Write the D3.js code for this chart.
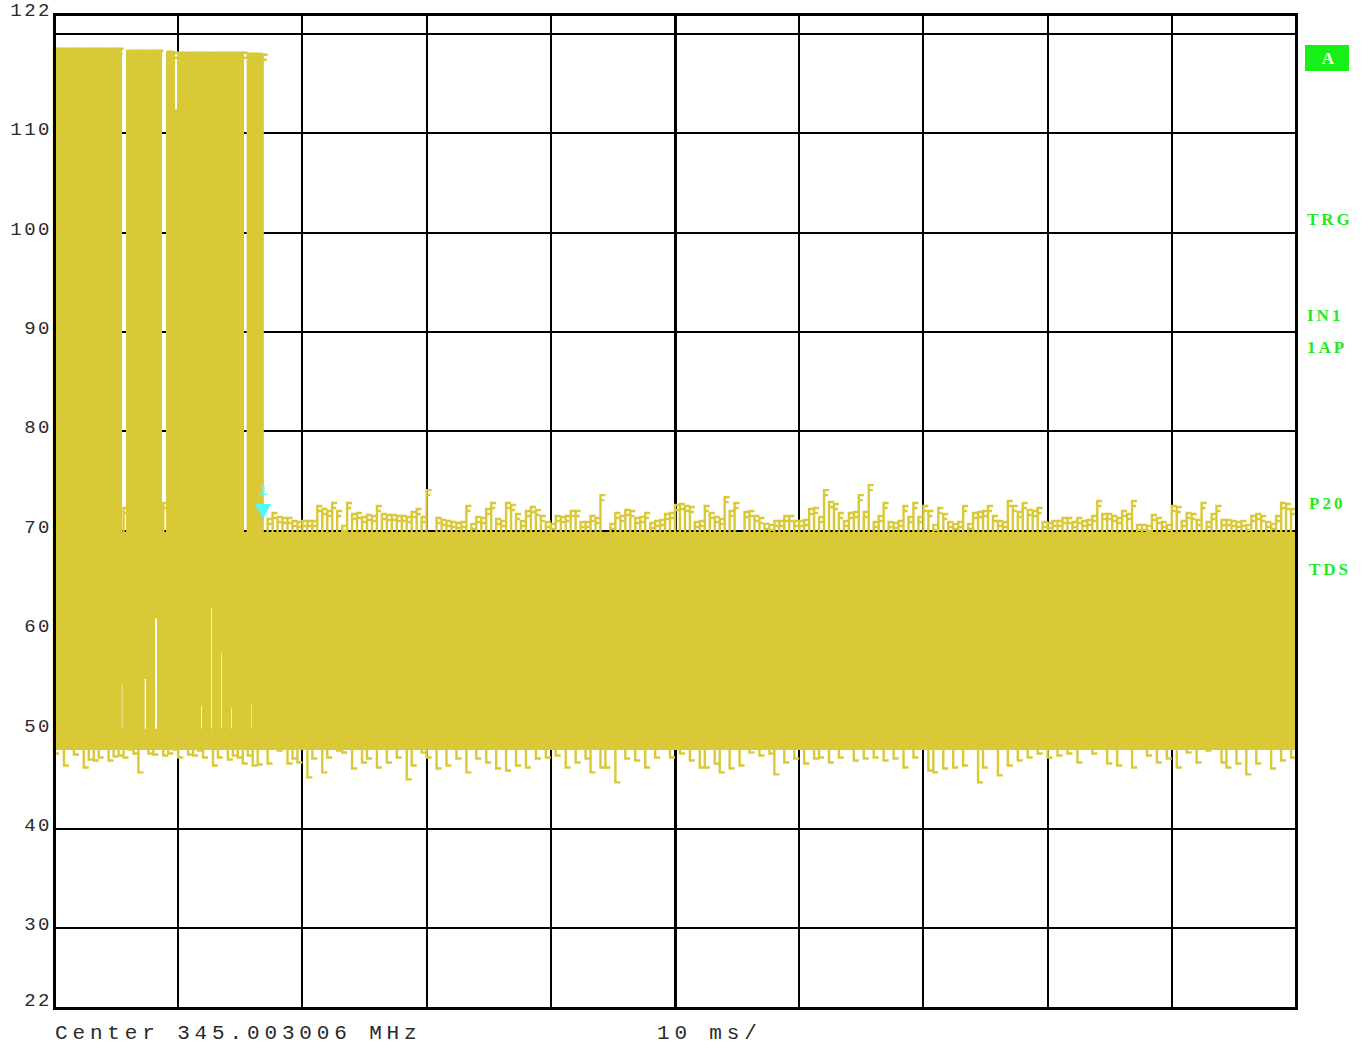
<!DOCTYPE html>
<html>
<head>
<meta charset="utf-8">
<script src="https://cdn.jsdelivr.net/npm/d3@7"></script>
<style>
  body { margin: 0; background: #fff; }
  text { font-family: "Liberation Mono", "DejaVu Sans Mono", monospace; }
  text.side { font-family: "Liberation Serif", serif; }
</style>
</head>
<body>
<svg id="chart"></svg>
<script>
// ---- data (zero span, 10 ms/div, dBuV) ----
const yTicks = [122, 110, 100, 90, 80, 70, 60, 50, 40, 30, 22];
const yGrid = [120, 110, 100, 90, 80, 70, 60, 50, 40, 30];
const xDivs = [0, 10, 20, 30, 40, 50, 60, 70, 80, 90, 100];   // ms

// solid filled parts of the trace (ms, dB)
const blockStart  = [0,     5.82,  9.02,  9.74,  9.94,  15.55, 0];
const blockEnd    = [5.48,  8.70,  9.74,  9.94,  15.30, 16.71, 100];
const blockTop    = [118.6, 118.4, 118.3, 112.4, 118.2, 118.1, 69.9];
const blockBottom = [48.0,  48.0,  48.0,  48.0,  48.0,  48.0,  48.0];

// short stretches inside the burst where the trace leaves a white gap (ms, dB)
const gapMs     = [5.54, 7.33, 8.21, 11.92, 12.72, 13.53, 14.33, 15.94];
const gapTop    = [54.6, 55.1, 61.2, 52.4,  62.2,  57.7,  52.2,  52.6];
const gapBottom = [50.1, 50.1, 50.1, 50.1,  50.1,  50.1,  50.1,  50.1];

// one pulse every 0.4 ms: peak and trough of each (dB)
const slotMs = 0.4;
const peaks = [
  118.5, 118.5, 118.5, 118.5, 118.5, 118.5, 118.5, 118.5, 118.5, 118.5,
  118.5, 118.5, 118.5, 118.5, 72.3, 118.3, 118.3, 118.3, 118.3, 118.3,
  118.3, 118.3, 72.8, 118.2, 118.1, 118.1, 118.1, 118.1, 118.1, 118.1,
  118.1, 118.1, 118.1, 118.1, 118.1, 118.1, 118.1, 118.1, 118.1, 118.0,
  118.0, 118.0, 117.9, 71.2,
  71.8, 71.4, 71.3, 71.3, 71.0, 70.9, 71.0, 71.0, 71.0, 72.5,
  72.2, 72.0, 72.8, 72.0, 70.5, 72.8, 71.7, 71.8, 71.4, 71.6,
  71.5, 72.5, 71.7, 71.6, 71.6, 71.5, 71.5, 71.4, 71.9, 72.2,
  71.4, 74.1, 69.6, 71.3, 71.1, 71.0, 70.9, 70.8, 70.9, 72.5,
  70.7, 71.4, 71.3, 72.2, 72.8, 71.2, 71.0, 72.8, 72.6, 71.7,
  71.0, 72.0, 72.4, 72.1, 71.5, 70.9, 70.7, 71.5, 71.4, 71.5,
  72.0, 72.0, 70.9, 70.9, 71.5, 71.3, 73.6, 69.7, 70.7, 71.8,
  71.5, 72.1, 72.0, 71.3, 71.4, 71.8, 70.8, 71.0, 71.1, 71.7,
  71.8, 72.6, 72.7, 72.5, 72.4, 70.9, 71.0, 72.5, 71.8, 71.4,
  71.2, 73.4, 72.0, 72.8, 69.5, 71.9, 72.0, 71.5, 71.3, 70.7,
  70.6, 71.0,
  71.0, 71.5, 71.5, 71.0, 71.0, 71.1, 72.2, 72.3, 71.4, 74.1,
  72.9, 72.7, 71.8, 71.0, 71.8, 71.9, 73.6, 71.9, 74.6, 70.9,
  71.5, 72.8, 70.9, 70.8, 71.0, 72.5, 71.4, 72.8, 71.4, 72.5,
  72.0, 70.6, 72.3, 71.7, 70.9, 70.7, 70.9, 72.5, 70.7, 71.8,
  71.9, 72.0, 72.5, 71.5, 71.0, 70.9, 73.0, 72.5, 71.9, 72.8,
  72.1, 72.0, 72.3, 70.9, 70.8, 71.0, 71.0, 71.3, 71.3, 70.9,
  71.3, 71.0, 71.1, 71.5, 73.0, 71.7, 71.7, 71.5, 71.3, 72.0,
  71.7, 73.0, 70.6, 70.6, 70.5, 71.6, 71.3, 70.9, 70.6, 72.5,
  72.4, 71.0, 71.8, 71.7, 71.1, 72.8, 70.9, 71.7, 72.5, 71.1,
  71.1, 71.0, 70.9, 71.0, 70.6, 71.5, 71.7, 71.5, 70.9, 70.7,
  71.5, 72.8, 72.7, 72.2
];
const troughs = [
  47.6, 48.2, 46.4, 48.2, 47.5, 48.3, 46.2, 47.0, 46.9, 47.2,
  48.1, 46.9, 47.3, 47.4, 47.2, 48.0, 47.6, 45.7, 48.2, 47.6,
  47.5, 48.1, 47.4, 47.6, 48.0, 47.2, 48.1, 47.5, 47.4, 47.9,
  47.2, 48.2, 46.4, 47.2, 48.3, 47.0, 47.4, 47.2, 46.6, 47.4,
  46.4, 46.5,
  48.4, 46.6, 48.5, 47.9, 48.6, 46.6, 47.1, 46.7, 48.5, 45.2,
  47.1, 48.6, 45.7, 47.2, 48.4, 47.9, 47.7, 48.6, 46.1, 48.5,
  46.7, 47.1, 48.6, 46.2, 48.4, 46.7, 48.7, 47.2, 48.5, 45.0,
  46.4, 48.6, 47.7, 47.2, 48.5, 46.1, 48.6, 46.4, 48.4, 47.1,
  48.7, 45.7, 48.5, 47.1, 48.6, 46.7, 48.4, 46.1, 48.6, 45.9,
  48.5, 46.4, 48.7, 46.2, 48.4, 47.1, 48.6, 47.2, 48.5, 47.4,
  48.6, 46.2, 48.4, 46.7, 48.7, 47.1, 45.7, 48.5, 46.2, 46.2,
  48.6, 44.7, 48.4, 47.1, 48.6, 46.9, 48.5, 46.2, 48.7, 47.2,
  48.4, 48.6, 47.2, 48.5, 47.6, 48.4, 46.9, 48.6, 46.2, 46.2,
  48.5, 46.6, 45.7, 48.6, 46.1, 48.4, 46.4, 48.7, 47.7, 48.5,
  47.4, 48.6, 47.6, 45.5, 48.4, 46.7, 48.6, 47.1, 48.5, 46.6,
  48.7, 47.1, 47.2, 48.4, 46.7, 48.6, 47.2, 48.5, 48.6, 46.9,
  48.4, 47.1, 48.7, 47.2, 48.5, 46.9, 48.6, 47.1, 48.4, 46.2,
  48.6, 47.2, 48.5, 48.7, 45.9, 45.7, 48.4, 46.1, 48.6, 46.2,
  48.5, 46.4, 48.7, 48.4, 44.7, 46.2, 48.6, 48.5, 45.4, 48.4,
  46.4, 48.6, 46.9, 48.5, 47.2, 48.7, 47.6, 48.4, 47.2, 48.6,
  47.4, 48.5, 47.6, 48.4, 46.7, 48.6, 48.5, 47.6, 48.7, 48.4,
  46.6, 48.6, 46.4, 48.5, 48.4, 46.2, 48.6, 48.7, 47.4, 48.5,
  46.7, 48.4, 47.1, 48.6, 46.2, 48.5, 47.7, 48.4, 46.7, 48.6,
  47.9, 48.5, 48.4, 46.7, 46.2, 48.6, 46.6, 48.5, 45.5, 48.4,
  46.6, 48.6, 48.5, 46.1, 48.7, 46.9, 48.4, 47.2
];

// marker 1
const markerMs = 16.83, markerDb = 71.2;

// screen texts
const footLeft = "Center 345.003006 MHz";
const footMid = "10 ms/";
const sideLabels = ["TRG", "IN1", "1AP", "P20", "TDS"];

// ---- layout ----
const width = 1367, height = 1046;
const plot = { left: 54, right: 1296, top: 14, bottom: 1008 };
const traceColor = "#d9c937", gridColor = "#000", green = "#22ea22";

const svg = d3.select("#chart").attr("width", width).attr("height", height);

const x = d3.scaleLinear().domain([0, 100]).range([plot.left, plot.right]);
const y = d3.scaleLinear().domain([22, 122]).range([plot.bottom, plot.top]);

// grid
svg.append("g").selectAll("line").data(yGrid).join("line")
   .attr("x1", plot.left).attr("x2", plot.right)
   .attr("y1", d => y(d)).attr("y2", d => y(d))
   .attr("stroke", gridColor).attr("stroke-width", 2)
   .attr("shape-rendering", "crispEdges");

svg.append("g").selectAll("line").data(xDivs.slice(1, -1)).join("line")
   .attr("x1", d => x(d)).attr("x2", d => x(d))
   .attr("y1", plot.top).attr("y2", plot.bottom)
   .attr("stroke", gridColor).attr("stroke-width", d => d === 50 ? 3 : 2)
   .attr("shape-rendering", "crispEdges");

// filled parts of the trace
svg.append("g").selectAll("rect").data(blockStart).join("rect")
   .attr("x", (d, i) => x(d))
   .attr("width", (d, i) => x(blockEnd[i]) - x(d))
   .attr("y", (d, i) => y(blockTop[i]))
   .attr("height", (d, i) => y(blockBottom[i]) - y(blockTop[i]))
   .attr("fill", traceColor)
   .attr("shape-rendering", "crispEdges");

// white gaps inside the burst
svg.append("g").selectAll("line").data(gapMs).join("line")
   .attr("x1", d => x(d)).attr("x2", d => x(d))
   .attr("y1", (d, i) => y(gapTop[i])).attr("y2", (d, i) => y(gapBottom[i]))
   .attr("stroke", "#fff").attr("stroke-width", 2);

// individual pulses with their overshoot flags
const pulses = peaks.map((p, i) => ({ t: i * slotMs, hi: p, lo: troughs[i] }));
svg.append("g").selectAll("path").data(pulses).join("path")
   .attr("d", d => {
       const px = x(d.t), yh = y(d.hi), yl = y(d.lo);
       return `M${px + 5},${yl}H${px}V${yh}H${px + 5}M${px},${yh + 5}H${px + 4}`;
   })
   .attr("fill", "none")
   .attr("stroke", traceColor)
   .attr("stroke-width", 2.4);

// frame
svg.append("rect")
   .attr("x", plot.left).attr("y", plot.top)
   .attr("width", plot.right - plot.left).attr("height", plot.bottom - plot.top)
   .attr("fill", "none").attr("stroke", "#000").attr("stroke-width", 3)
   .attr("shape-rendering", "crispEdges");
svg.append("line")
   .attr("x1", plot.left).attr("x2", plot.right + 2)
   .attr("y1", plot.bottom + 1).attr("y2", plot.bottom + 1)
   .attr("stroke", "#000").attr("stroke-width", 2);

// marker
const mx = x(markerMs), my = y(markerDb);
svg.append("path")
   .attr("d", `M${mx - 8},${my - 15}H${mx + 8}L${mx},${my}Z`)
   .attr("fill", "#55f6f6");
svg.append("text")
   .attr("x", mx).attr("y", my - 24)
   .attr("text-anchor", "middle")
   .attr("font-size", 15).attr("fill", "#55f6f6")
   .text("1");

// y labels
svg.append("g").selectAll("text").data(yTicks).join("text")
   .attr("x", 52)
   .attr("y", d => Math.min(y(d) + 2, plot.bottom - 2))
   .attr("text-anchor", "end")
   .attr("font-size", 19)
   .attr("letter-spacing", 2.5)
   .attr("fill", "#2a2a2a")
   .text(d => d);

// footer
svg.append("text").attr("x", 55).attr("y", 1039)
   .attr("font-size", 21).attr("letter-spacing", 4.85).attr("fill", "#2a2a2a")
   .text(footLeft);
svg.append("text").attr("x", 657).attr("y", 1039)
   .attr("font-size", 21).attr("letter-spacing", 4.85).attr("fill", "#2a2a2a")
   .text(footMid);

// side panel
const side = svg.append("g");
side.append("defs").append("clipPath").attr("id", "sideClip")
    .append("rect").attr("x", 1300).attr("y", 0).attr("width", 49).attr("height", height);
side.append("rect").attr("x", 1305).attr("y", 45).attr("width", 44).attr("height", 26)
    .attr("fill", "#16f016");
side.append("text").attr("class", "side")
    .attr("x", 1328).attr("y", 64).attr("text-anchor", "middle")
    .attr("font-size", 17).attr("font-weight", "bold").attr("fill", "#fff")
    .text("A");
const sideY = [225, 321, 353, 509, 575];
const sideX = [1307, 1307, 1307, 1309, 1309];
side.append("g").attr("clip-path", "url(#sideClip)")
    .selectAll("text").data(sideLabels).join("text")
    .attr("class", "side")
    .attr("x", (d, i) => sideX[i]).attr("y", (d, i) => sideY[i])
    .attr("font-size", 17).attr("font-weight", "bold")
    .attr("letter-spacing", 3).attr("fill", green)
    .text(d => d);
</script>
</body>
</html>
